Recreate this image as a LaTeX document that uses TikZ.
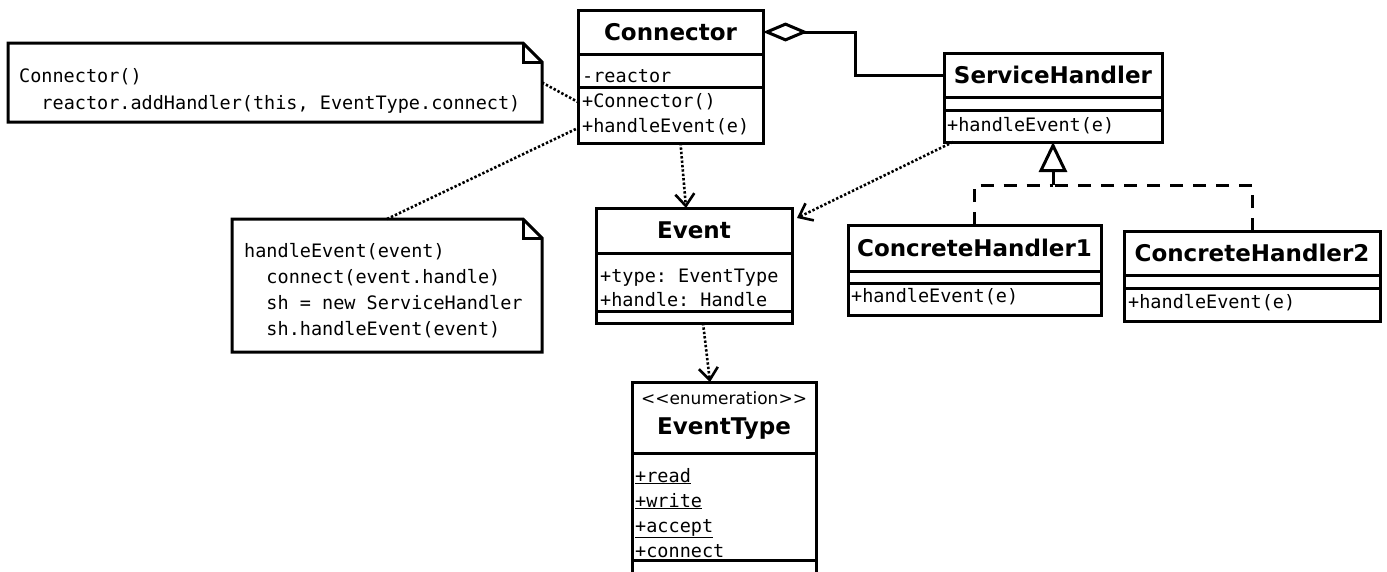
\documentclass[tikz,border=0pt]{standalone}
\usepackage{fontspec}
\setmonofont{DejaVu Sans Mono}
\newfontfamily\dejavu{DejaVu Sans}[Ligatures=TeXOff]
\usetikzlibrary{arrows.meta}

\begin{document}
\begin{tikzpicture}[x=1pt,y=-1pt,
  case/.style={draw,line width=3pt,inner sep=0pt,outer sep=0pt,anchor=north west},
  titre/.style={case,font=\dejavu\bfseries\fontsize{23}{28}\selectfont},
  nom/.style={inner sep=0pt,font=\dejavu\bfseries\fontsize{23}{28}\selectfont},
  stereo/.style={inner sep=0pt,font=\dejavu\fontsize{17}{20}\selectfont},
  membre/.style={anchor=base west,inner sep=0pt,font=\ttfamily\fontsize{18.5}{25}\selectfont},
  note/.style={inner sep=0pt,outer sep=0pt,anchor=north west},
  trait/.style={line width=3pt},
  pointille/.style={line width=2.6pt,dash pattern=on 2.4pt off 2pt},
  dependance/.style={pointille,-{Straight Barb[length=12pt,width=19pt]}},
  realise/.style={line width=3pt,dash pattern=on 13pt off 10pt}]
\useasboundingbox (0,0) rectangle (1387,571);
\clip (0,0) rectangle (1387,571);

%la classe Connector
\node[titre,minimum width=185pt,minimum height=44pt] (connector) at (578,10) {Connector};
\node[case,minimum width=185pt,minimum height=33pt] (connector-attr) at (578,54) {};
\node[case,minimum width=185pt,minimum height=56pt] (connector-ops) at (578,87) {};
\node[membre] (connector-a1) at (582,82) {-reactor};
\node[membre] (connector-o1) at (582,107) {+Connector()};
\node[membre] (connector-o2) at (582,132) {+handleEvent(e)};

%la classe ServiceHandler
\node[titre,minimum width=218pt,minimum height=44pt] (handler) at (944,53) {ServiceHandler};
\node[case,minimum width=218pt,minimum height=13pt] (handler-attr) at (944,97) {};
\node[case,minimum width=218pt,minimum height=32pt] (handler-ops) at (944,110) {};
\node[membre] (handler-o1) at (947,131) {+handleEvent(e)};

%les deux handlers concrets
\node[titre,minimum width=253pt,minimum height=46pt] (handler1) at (848,225) {ConcreteHandler1};
\node[case,minimum width=253pt,minimum height=12pt] (handler1-attr) at (848,271) {};
\node[case,minimum width=253pt,minimum height=32pt] (handler1-ops) at (848,283) {};
\node[membre] (handler1-o1) at (851,302) {+handleEvent(e)};

\node[titre,minimum width=256pt,minimum height=44pt] (handler2) at (1124,231) {ConcreteHandler2};
\node[case,minimum width=256pt,minimum height=13pt] (handler2-attr) at (1124,275) {};
\node[case,minimum width=256pt,minimum height=33pt] (handler2-ops) at (1124,288) {};
\node[membre] (handler2-o1) at (1128,308) {+handleEvent(e)};

%la classe Event
\node[titre,minimum width=196pt,minimum height=45pt] (event) at (596,208) {Event};
\node[case,minimum width=196pt,minimum height=58pt] (event-attr) at (596,253) {};
\node[case,minimum width=196pt,minimum height=12pt] (event-ops) at (596,311) {};
\node[membre] (event-a1) at (600,282) {+type: EventType};
\node[membre] (event-a2) at (600,306) {+handle: Handle};

%l'enumeration EventType
\node[case,minimum width=184pt,minimum height=71pt] (eventtype) at (632,382) {};
\node[case,minimum width=184pt,minimum height=107pt] (eventtype-attr) at (632,453) {};
\node[case,minimum width=184pt,minimum height=50pt] (eventtype-ops) at (632,560) {};
\node[stereo] (eventtype-stereo) at (724,398) {<<enumeration>>};
\node[nom] (eventtype-nom) at (724,429) {EventType};
\node[membre] (eventtype-a1) at (635,482) {\underline{+read}};
\node[membre] (eventtype-a2) at (635,507) {\underline{+write}};
\node[membre] (eventtype-a3) at (635,532) {\underline{+accept}};
\node[membre] (eventtype-a4) at (635,557) {+connect};

%les notes
\node[note,minimum width=534pt,minimum height=79pt] (note1) at (8,43) {};
\draw[trait] (note1.north west) -- ([xshift=-19pt]note1.north east) -- ([yshift=-19pt]note1.north east) -- (note1.south east) -- (note1.south west) -- cycle;
\draw[trait] ([xshift=-19pt]note1.north east) |- ([yshift=-19pt]note1.north east);
\node[membre] (note1-l1) at (19,82) {Connector()};
\node[membre] (note1-l2) at (19,109) {\ \ reactor.addHandler(this, EventType.connect)};

\node[note,minimum width=310pt,minimum height=133pt] (note2) at (232,219) {};
\draw[trait] (note2.north west) -- ([xshift=-19pt]note2.north east) -- ([yshift=-19pt]note2.north east) -- (note2.south east) -- (note2.south west) -- cycle;
\draw[trait] ([xshift=-19pt]note2.north east) |- ([yshift=-19pt]note2.north east);
\node[membre] (note2-l1) at (244,257) {handleEvent(event)};
\node[membre] (note2-l2) at (244,283) {\ \ connect(event.handle)};
\node[membre] (note2-l3) at (244,309) {\ \ sh = new ServiceHandler};
\node[membre] (note2-l4) at (244,335) {\ \ sh.handleEvent(event)};

%liens des notes
\draw[pointille] (note1.east) -- ([yshift=13pt]connector-ops.west);
\draw[pointille] (note2.north) -- ([yshift=-13pt]connector-ops.west);

%aggregation
\draw[trait,-{Diamond[open,length=45pt,width=19pt]}] (handler.west) -- ++(-89,0) |- (connector.east);

%dependances
\draw[dependance] ([xshift=10pt]connector-ops.south) -- ([xshift=-8pt]event.north);
\draw[dependance] ([xshift=9pt]handler-ops.south west) -- ([xshift=5pt,yshift=-10pt]event.north east);
\draw[dependance] ([xshift=9pt]event-ops.south) -- ([xshift=-14pt]eventtype.north);

%realisation
\coordinate (jonction) at (1053,185);
\draw[realise] (handler1.north) |- (jonction);
\draw[realise] (handler2.north) |- (jonction);
\draw[trait,-{Triangle[open,length=30pt,width=28pt]}] (jonction) -- (handler-ops.south);

\end{tikzpicture}
\end{document}
